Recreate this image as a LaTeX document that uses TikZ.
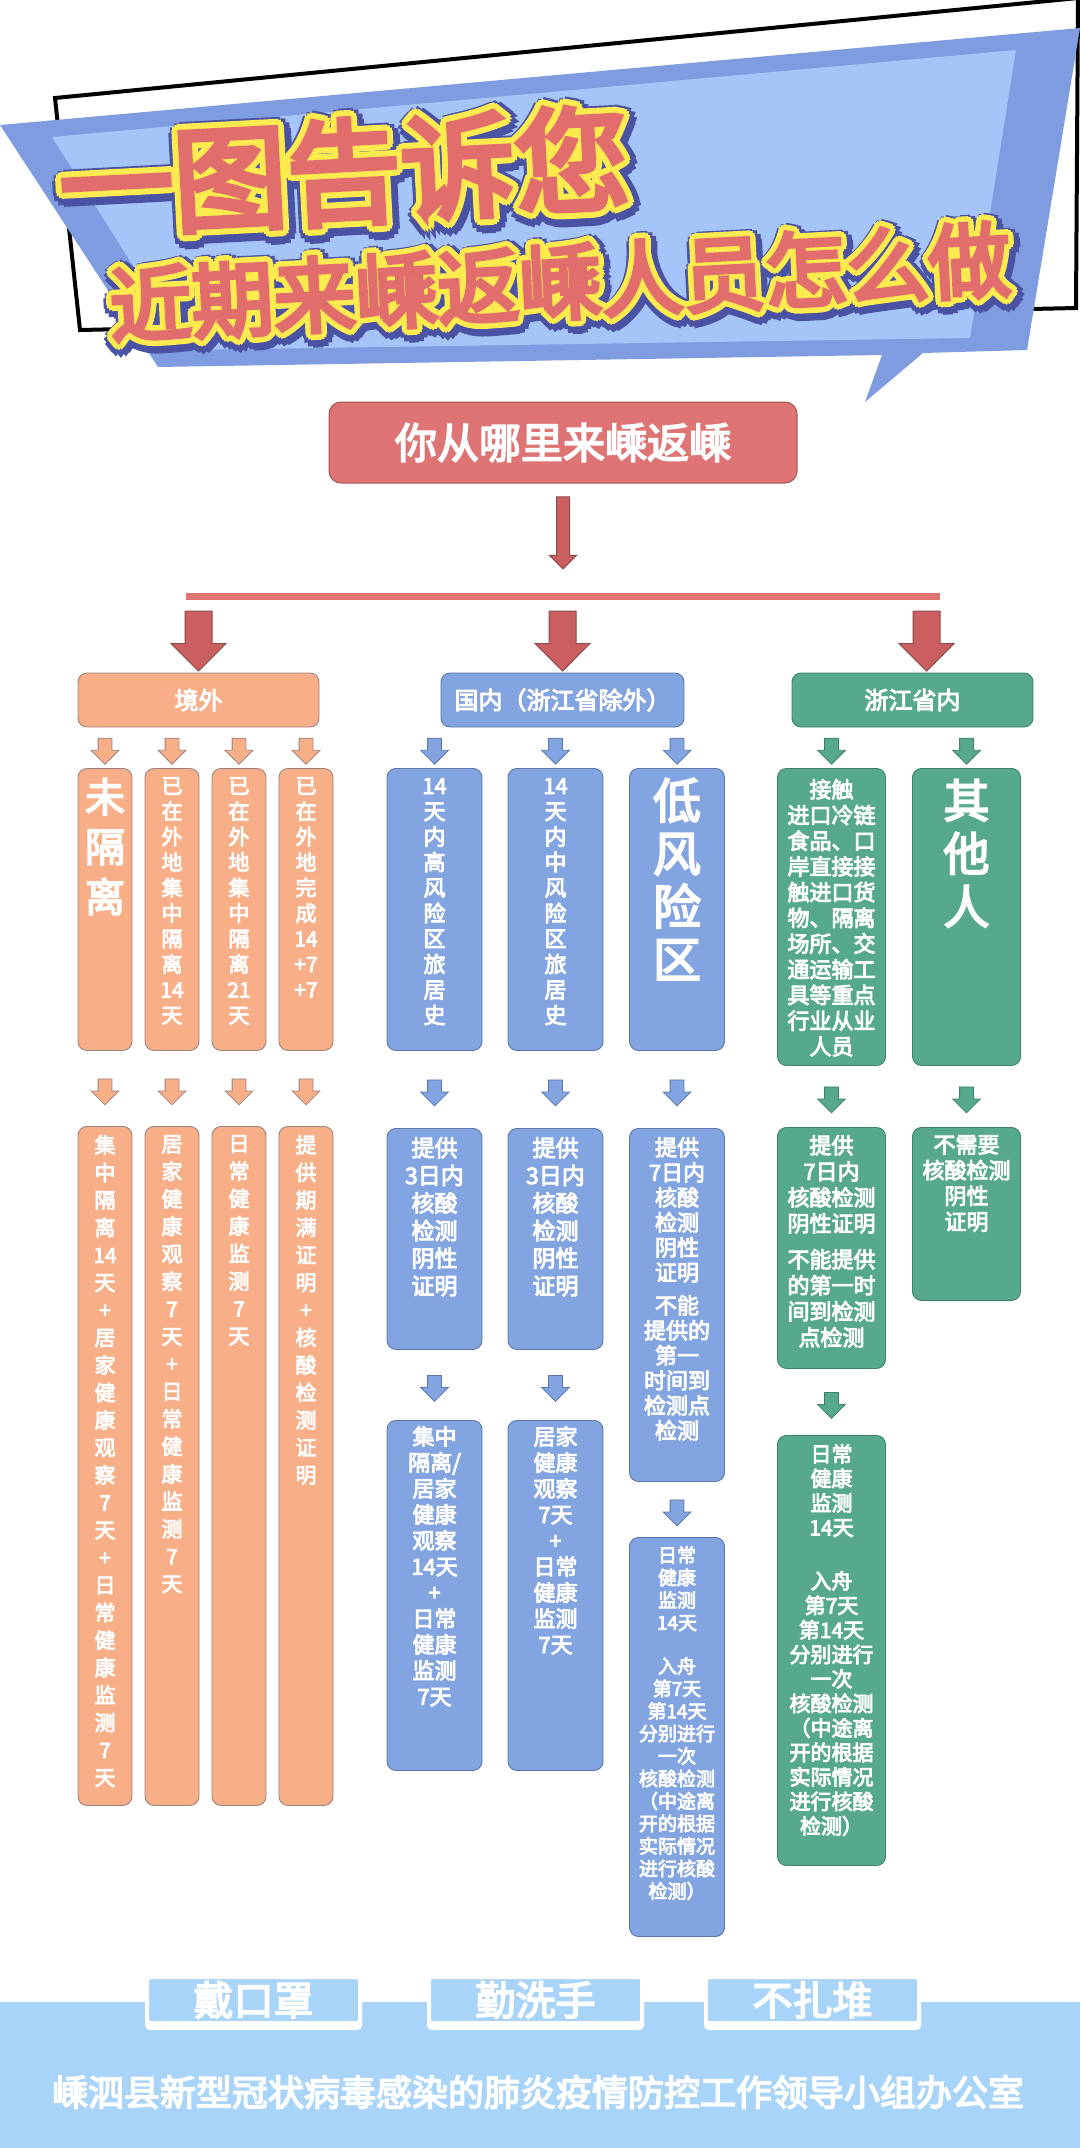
\documentclass[tikz,border=0pt]{standalone}
\usepackage{fontspec}
\usetikzlibrary{positioning,calc,shapes.arrows}
\newfontfamily\cjk{Noto Sans CJK SC}[FakeBold=4]
\newfontfamily\ttlred{Noto Sans CJK SC}[FakeBold=5]

\definecolor{titleblue}{HTML}{7E9CDF}
\definecolor{titlelight}{HTML}{A5C4F7}
\definecolor{titlered}{HTML}{E26D6D}
\definecolor{titleyellow}{HTML}{FCEB4E}
\definecolor{titledark}{HTML}{4A52A4}
\definecolor{rootred}{HTML}{DE7473}
\definecolor{rootline}{HTML}{9E5655}
\definecolor{arrowred}{HTML}{CB5F5F}
\definecolor{arrowline}{HTML}{8C4B4B}
\definecolor{jworange}{HTML}{F8AE86}
\definecolor{jwline}{HTML}{9A8480}
\definecolor{gnblue}{HTML}{82A4E0}
\definecolor{gnline}{HTML}{5B76A8}
\definecolor{zjgreen}{HTML}{56A98C}
\definecolor{zjline}{HTML}{3E8068}
\definecolor{bandblue}{HTML}{A9D4F9}

\tikzset{
  box/.style={rounded corners=9pt, line width=0.9pt, anchor=north, inner sep=0pt},
  obox/.style={box, fill=jworange, draw=jwline},
  bbox/.style={box, fill=gnblue, draw=gnline},
  gbox/.style={box, fill=zjgreen, draw=zjline},
  catbox/.style={rounded corners=9pt, line width=0.9pt, minimum height=54pt, text=white,
    font=\cjk\fontsize{24}{24}\selectfont},
  vt/.style 2 args={text=white, align=center, inner sep=0pt, font=\cjk\fontsize{#1}{#2}\selectfont},
  sarr/.style={single arrow, rotate=-90, inner xsep=0pt, inner ysep=6.5pt, minimum height=26pt,
    single arrow head extend=7pt, line width=0.8pt},
  oarr/.style={sarr, fill=jworange, draw=jwline},
  barr/.style={sarr, fill=gnblue, draw=gnline},
  garr/.style={sarr, fill=zjgreen, draw=zjline},
  bigarr/.style={single arrow, rotate=-90, inner xsep=0pt, inner ysep=13pt, minimum height=60pt,
    single arrow head extend=14pt, fill=arrowred, draw=arrowline, line width=1pt},
  toparr/.style={bigarr, minimum height=72pt, inner ysep=6pt, single arrow head extend=7pt},
  ttl/.style={inner sep=0pt, rotate=3, font=\ttlred\fontsize{#1}{#1}\selectfont},
  btn/.style={minimum width=213pt, minimum height=46pt, fill=bandblue, draw=white, line width=4pt,
    rounded corners=3pt, text=white, font=\cjk\fontsize{40}{40}\selectfont,
    preaction={fill=white, draw=white, line width=4pt, transform canvas={yshift=-5pt}}}
}

\begin{document}
\begin{tikzpicture}[x=1pt,y=-1pt]
\useasboundingbox (0,0) rectangle (1080,2148);
\clip (0,0) rectangle (1080,2148);
\fill[white] (0,0) rectangle (1080,2148);

% title banner
\draw[line width=4pt, fill=white] (55,98) -- (1078,-2) -- (1076,308) -- (80,330) -- cycle;
\fill[titleblue] (0,125) -- (1080,28) -- (1027,350) -- (923,353) -- (865,402) -- (882,355) -- (158,367) -- cycle;
\fill[titlelight] (52,137) -- (1016,50) -- (970,338) -- (186,350) -- cycle;

\coordinate (t1) at (344,172);
\coordinate (t2) at (560,282);
\foreach \a in {0,30,...,330} {
  \node[ttl=114, text=titledark] (t1d\a) at ($(t1)+(\a:11pt)+(2pt,-3pt)$) {一图告诉您};
}
\foreach \a in {0,30,...,330} {
  \node[ttl=114, text=titleyellow] (t1y\a) at ($(t1)+(\a:6pt)$) {一图告诉您};
}
\node[ttl=114, text=titlered] (t1r) at (t1) {一图告诉您};
\foreach \a in {0,30,...,330} {
  \node[ttl=82, text=titledark] (t2d\a) at ($(t2)+(\a:10pt)+(2pt,-3pt)$) {近期来嵊返嵊人员怎么做};
}
\foreach \a in {0,30,...,330} {
  \node[ttl=82, text=titleyellow] (t2y\a) at ($(t2)+(\a:5.5pt)$) {近期来嵊返嵊人员怎么做};
}
\node[ttl=82, text=titlered] (t2r) at (t2) {近期来嵊返嵊人员怎么做};

% root and the three ways
\node[rounded corners=12pt, fill=rootred, draw=rootline, line width=1pt, minimum width=468pt,
  minimum height=81pt, text=white, font=\cjk\fontsize{42}{42}\selectfont] (root) at (563,442.5) {你从哪里来嵊返嵊};
\coordinate (barl) at (186,596);
\coordinate (barr) at (940,596);
\draw[rootred, line width=7pt] (barl) -- (barr);
\path (root.south) -- node[pos=0.41, toparr] {} (root.south |- barl);

\node[catbox, fill=jworange, draw=jwline, minimum width=241pt] (jw) at (198.5,700) {境外};
\node[catbox, fill=gnblue, draw=gnline, minimum width=243pt] (gn) at (562.5,700) {国内（浙江省除外）};
\node[catbox, fill=zjgreen, draw=zjline, minimum width=241pt] (zj) at (912.5,700) {浙江省内};
\coordinate (zjin) at ($(zj.north)+(14,0)$);
\path (barl -| jw.north) -- node[bigarr] {} (jw.north);
\path (barl -| gn.north) -- node[bigarr] {} (gn.north);
\path (barl -| zjin) -- node[bigarr] {} (zjin);

% abroad
\foreach \n/\x in {1/105,2/172,3/239,4/306} {
  \node[obox, minimum width=54pt, minimum height=282pt] (o\n) at (\x,768) {};
  \node[obox, minimum width=54pt, minimum height=679pt] (p\n) at (\x,1126) {};
  \path (jw.south -| o\n.north) -- node[oarr] {} (o\n.north);
  \path (o\n.south) -- node[oarr] {} (p\n.north);
}
\node[vt={40}{50}, below=10pt of o1.north] (o1t) {未\\隔\\离};
\node[vt={21}{25.5}, below=9pt of o2.north] (o2t) {已\\在\\外\\地\\集\\中\\隔\\离\\14\\天};
\node[vt={21}{25.5}, below=9pt of o3.north] (o3t) {已\\在\\外\\地\\集\\中\\隔\\离\\21\\天};
\node[vt={21}{25.5}, below=9pt of o4.north] (o4t) {已\\在\\外\\地\\完\\成\\14\\+7\\+7};
\node[vt={21}{27.5}, below=9pt of p1.north] (p1t) {集\\中\\隔\\离\\14\\天\\+\\居\\家\\健\\康\\观\\察\\7\\天\\+\\日\\常\\健\\康\\监\\测\\7\\天};
\node[vt={21}{27.5}, below=9pt of p2.north] (p2t) {居\\家\\健\\康\\观\\察\\7\\天\\+\\日\\常\\健\\康\\监\\测\\7\\天};
\node[vt={21}{27.5}, below=9pt of p3.north] (p3t) {日\\常\\健\\康\\监\\测\\7\\天};
\node[vt={21}{27.5}, below=9pt of p4.north] (p4t) {提\\供\\期\\满\\证\\明\\+\\核\\酸\\检\\测\\证\\明};

% inland, Zhejiang excepted
\foreach \n/\x in {1/434.5,2/555.5,3/677} {
  \node[bbox, minimum width=95pt, minimum height=282pt] (b\n) at (\x,768) {};
  \path (gn.south -| b\n.north) -- node[barr] {} (b\n.north);
}
\node[bbox, minimum width=95pt, minimum height=221pt] (c1) at (434.5,1128) {};
\node[bbox, minimum width=95pt, minimum height=221pt] (c2) at (555.5,1128) {};
\node[bbox, minimum width=95pt, minimum height=353pt] (c3) at (677,1128) {};
\node[bbox, minimum width=95pt, minimum height=350pt] (d1) at (434.5,1420) {};
\node[bbox, minimum width=95pt, minimum height=350pt] (d2) at (555.5,1420) {};
\node[bbox, minimum width=95pt, minimum height=399pt] (d3) at (677,1537) {};
\foreach \n in {1,2,3} {
  \path (b\n.south) -- node[barr] {} (c\n.north);
  \path (c\n.south) -- node[barr] {} (d\n.north);
}
\node[vt={22}{25.5}, below=10pt of b1.north] (b1t) {14\\天\\内\\高\\风\\险\\区\\旅\\居\\史};
\node[vt={22}{25.5}, below=10pt of b2.north] (b2t) {14\\天\\内\\中\\风\\险\\区\\旅\\居\\史};
\node[vt={48}{53}, below=10pt of b3.north] (b3t) {低\\风\\险\\区};
\node[vt={23}{27.6}, below=9pt of c1.north] (c1t) {提供\\3日内\\核酸\\检测\\阴性\\证明};
\node[vt={23}{27.6}, below=9pt of c2.north] (c2t) {提供\\3日内\\核酸\\检测\\阴性\\证明};
\node[vt={22}{25}, below=9pt of c3.north] (c3t) {提供\\7日内\\核酸\\检测\\阴性\\证明\\[8pt]不能\\提供的\\第一\\时间到\\检测点\\检测};
\node[vt={22}{26}, below=6pt of d1.north] (d1t) {集中\\隔离/\\居家\\健康\\观察\\14天\\+\\日常\\健康\\监测\\7天};
\node[vt={22}{26}, below=6pt of d2.north] (d2t) {居家\\健康\\观察\\7天\\+\\日常\\健康\\监测\\7天};
\node[vt={19}{22.5}, below=9pt of d3.north] (d3t) {日常\\健康\\监测\\14天\\[21pt]入舟\\第7天\\第14天\\分别进行\\一次\\核酸检测\\（中途离\\开的根据\\实际情况\\进行核酸\\检测）};

% Zhejiang
\node[gbox, minimum width=108pt, minimum height=297pt] (g1) at (831.5,768) {};
\node[gbox, minimum width=108pt, minimum height=297pt] (g2) at (966.5,768) {};
\node[gbox, minimum width=108pt, minimum height=241pt] (h1) at (831.5,1127) {};
\node[gbox, minimum width=108pt, minimum height=173pt] (h2) at (966.5,1127) {};
\node[gbox, minimum width=108pt, minimum height=430pt] (k1) at (831.5,1435) {};
\foreach \n in {1,2} {
  \path (zj.south -| g\n.north) -- node[garr] {} (g\n.north);
  \path (g\n.south) -- node[garr] {} (h\n.north);
}
\path (h1.south) -- node[garr] {} (k1.north);
\node[vt={22}{25.7}, below=11pt of g1.north] (g1t) {接触\\进口冷链\\食品、口\\岸直接接\\触进口货\\物、隔离\\场所、交\\通运输工\\具等重点\\行业从业\\人员};
\node[vt={46}{53}, below=11pt of g2.north] (g2t) {其\\他\\人};
\node[vt={22}{26}, below=8pt of h1.north] (h1t) {提供\\7日内\\核酸检测\\阴性证明\\[10pt]不能提供\\的第一时\\间到检测\\点检测};
\node[vt={22}{25.7}, below=8pt of h2.north] (h2t) {不需要\\核酸检测\\阴性\\证明};
\node[vt={21}{24.5}, below=9pt of k1.north] (k1t) {日常\\健康\\监测\\14天\\[29pt]入舟\\第7天\\第14天\\分别进行\\一次\\核酸检测\\（中途离\\开的根据\\实际情况\\进行核酸\\检测）};

% footer
\fill[bandblue] (0,2002) rectangle (1080,2148);
\node[btn] (mask) at (253.5,2000) {戴口罩};
\node[btn] (wash) at (535.5,2000) {勤洗手};
\node[btn] (crowd) at (812.5,2000) {不扎堆};
\node[text=white, font=\cjk\fontsize{36}{36}\selectfont] (office) at (538,2092) {嵊泗县新型冠状病毒感染的肺炎疫情防控工作领导小组办公室};
\end{tikzpicture}
\end{document}
